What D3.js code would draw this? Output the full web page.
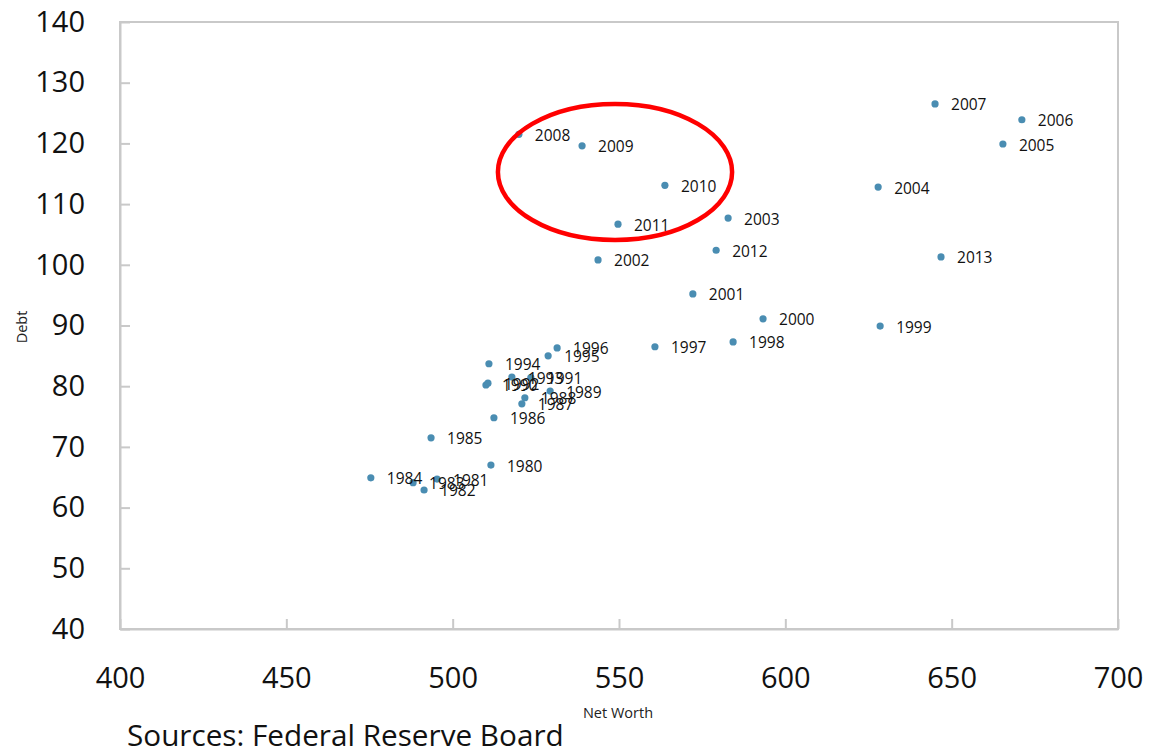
<!DOCTYPE html>
<html>
<head>
<meta charset="utf-8">
<script src="https://cdn.jsdelivr.net/npm/d3@7"></script>
<style>
  html, body { margin: 0; padding: 0; background: #fff; }
  svg { display: block; font-family: "Open Sans", "Noto Sans", sans-serif; }
</style>
</head>
<body>
<svg id="chart" width="1150" height="752"></svg>
<script>
const years = [1980,1981,1982,1983,1984,1985,1986,1987,1988,1989,1990,1991,1992,1993,1994,1995,1996,1997,1998,1999,2000,2001,2002,2003,2004,2005,2006,2007,2008,2009,2010,2011,2012,2013];
const netWorth = [511.5,495.3,491.4,488.1,475.4,493.5,512.4,520.8,521.7,529.3,510.0,523.5,510.6,517.8,510.9,528.7,531.4,560.8,584.3,628.5,593.3,572.2,543.7,582.8,627.9,665.4,671.1,645.0,519.9,538.9,563.8,549.7,579.2,646.8];
const debt = [67.0,64.7,62.9,64.1,64.9,71.5,74.8,77.1,78.1,79.2,80.2,81.4,80.5,81.5,83.7,85.0,86.3,86.5,87.3,89.9,91.1,95.2,100.8,107.7,112.8,119.9,123.9,126.5,121.5,119.6,113.1,106.7,102.4,101.3];
const xTicks = [400,450,500,550,600,650,700];
const yTicks = [40,50,60,70,80,90,100,110,120,130,140];
const highlight = {cx: 548.8, cy: 115.3, rx: 35.2, ry: 11.2};

(function () {
const svg = d3.select("#chart");
const mLeft = 120, mRight = 1118, mTop = 22, mBottom = 629;
const x = d3.scaleLinear().domain([400,700]).range([mLeft, mRight]);
const y = d3.scaleLinear().domain([40,140]).range([mBottom, mTop]);
const axisColor = "#c9c9c9";

// plot border
svg.append("rect").attr("x", mLeft).attr("y", mTop).attr("width", mRight-mLeft).attr("height", mBottom-mTop)
  .attr("fill", "none").attr("stroke", axisColor).attr("stroke-width", 2);

// x axis (ticks inward)
const gx = svg.append("g").attr("transform", `translate(0,${mBottom})`)
  .call(d3.axisBottom(x).tickValues(xTicks).tickSizeInner(-10).tickSizeOuter(0).tickPadding(38));
gx.select(".domain").attr("stroke", axisColor).attr("stroke-width", 2);
gx.selectAll(".tick line").attr("stroke", axisColor).attr("stroke-width", 2);
gx.selectAll(".tick text").attr("font-size", 29).attr("fill", "#111").attr("font-family", "Open Sans, sans-serif");

// y axis (ticks inward)
const gy = svg.append("g").attr("transform", `translate(${mLeft},0)`)
  .call(d3.axisLeft(y).tickValues(yTicks).tickSizeInner(-10).tickSizeOuter(0).tickPadding(35));
gy.select(".domain").attr("stroke", axisColor).attr("stroke-width", 2);
gy.selectAll(".tick line").attr("stroke", axisColor).attr("stroke-width", 2);
gy.selectAll(".tick text").attr("font-size", 29).attr("fill", "#111").attr("font-family", "Open Sans, sans-serif");

// axis titles
svg.append("text").attr("x", 618).attr("y", 718).attr("text-anchor", "middle")
  .attr("font-size", 14.5).attr("fill", "#222").text("Net Worth");
svg.append("text").attr("transform", "translate(27,327) rotate(-90)").attr("text-anchor", "middle")
  .attr("font-size", 14.5).attr("fill", "#222").text("Debt");

// source
svg.append("text").attr("x", 127).attr("y", 746).attr("font-size", 29.7).attr("fill", "#111").text("Sources: Federal Reserve Board");

const data = years.map((yr, i) => ({yr, nw: netWorth[i], d: debt[i]}));

// points
svg.append("g").selectAll("circle").data(data).join("circle")
  .attr("cx", d => x(d.nw)).attr("cy", d => y(d.d)).attr("r", 3.6).attr("fill", "#4a8db2");

// labels
svg.append("g").selectAll("text").data(data).join("text")
  .attr("x", d => x(d.nw) + 16).attr("y", d => y(d.d) + 6.5)
  .attr("font-size", 15.5).attr("fill", "#111").text(d => d.yr);

// highlight ellipse
svg.append("ellipse")
  .attr("cx", x(highlight.cx)).attr("cy", y(highlight.cy))
  .attr("rx", x(highlight.cx + highlight.rx) - x(highlight.cx))
  .attr("ry", y(highlight.cy) - y(highlight.cy + highlight.ry))
  .attr("fill", "none").attr("stroke", "#f00").attr("stroke-width", 4.5);
})();
</script>
</body>
</html>
